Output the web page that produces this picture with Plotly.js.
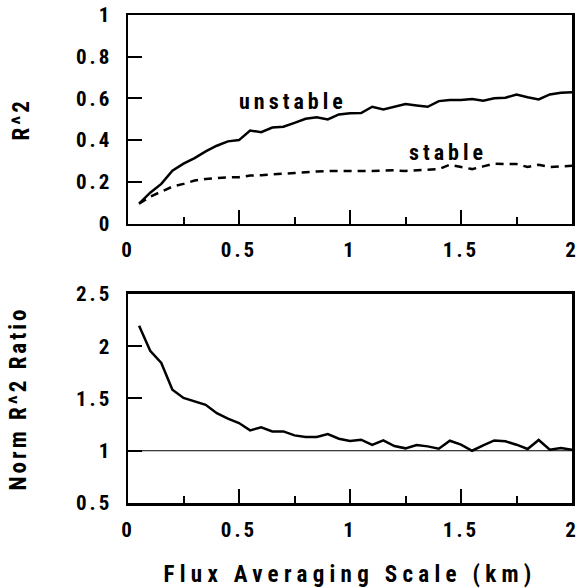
<!DOCTYPE html>
<html><head><meta charset="utf-8">
<script src="https://cdn.plot.ly/plotly-3.0.1.min.js"></script>
<style>
html,body{margin:0;padding:0;background:#fff;}
.main-svg text{letter-spacing:4px;}
.main-svg .xtick text,.main-svg .ytick text,.main-svg .x2tick text,.main-svg .y2tick text{letter-spacing:3px;}
.main-svg text.ytitle,.main-svg text.y2title{letter-spacing:3px;}
.main-svg text.x2title{letter-spacing:5.3px;}
</style>
</head><body>
<div id="chart" style="width:579px;height:588px;"></div>
<script>
const scaleKm = [0.05,0.1,0.15,0.2,0.25,0.3,0.35,0.4,0.45,0.5,0.55,0.6,0.65,0.7,0.75,0.8,0.85,0.9,0.95,1.0,
  1.05,1.1,1.15,1.2,1.25,1.3,1.35,1.4,1.45,1.5,1.55,1.6,1.65,1.7,1.75,1.8,1.85,1.9,1.95,2.0];
const unstableR2 = [0.095,0.148,0.19,0.253,0.287,0.314,0.346,0.373,0.394,0.40,0.446,0.438,0.46,0.464,0.483,0.502,0.51,0.499,0.523,0.529,
  0.53,0.56,0.547,0.56,0.573,0.566,0.56,0.587,0.592,0.592,0.597,0.589,0.601,0.603,0.619,0.606,0.595,0.619,0.627,0.63];
const stableR2 = [0.095,0.129,0.153,0.177,0.19,0.206,0.214,0.218,0.221,0.222,0.23,0.232,0.237,0.239,0.242,0.247,0.25,0.252,0.252,0.25,
  0.25,0.252,0.254,0.255,0.252,0.254,0.257,0.261,0.282,0.271,0.261,0.274,0.287,0.285,0.285,0.271,0.282,0.271,0.274,0.277];
const normRatio = [2.197,1.957,1.84,1.584,1.505,1.472,1.44,1.36,1.307,1.265,1.195,1.224,1.185,1.185,1.147,1.132,1.132,1.16,1.115,1.094,
  1.106,1.055,1.099,1.045,1.023,1.055,1.042,1.02,1.096,1.058,1.0,1.051,1.099,1.09,1.058,1.017,1.103,1.01,1.026,1.01];
const referenceLevel = 1;
const xRange = [0,2];
const y1Range = [0,1];
const y2Range = [0.5,2.5];
const xTicks = [0,0.5,1,1.5,2];
const xTickText = ['0','0.5','1','1.5','2'];
const xMinorTicks = [0.25,0.75,1.25,1.75];
const y1Ticks = [0,0.2,0.4,0.6,0.8,1];
const y1TickText = ['0','0.2','0.4','0.6','0.8','1'];
const y2Ticks = [0.5,1,1.5,2,2.5];
const y2TickText = ['0.5','1','1.5','2','2.5'];

const FONT = 'Roboto Condensed, DejaVu Sans Condensed, sans-serif';
const tickFont = {family: FONT, size: 21, color: '#000', weight: 'bold'};
const titleFont = {family: FONT, size: 23, color: '#000', weight: 'bold'};

function xAxis(extra){ return Object.assign({
  range:xRange, showline:true, mirror:true, linewidth:2.5, linecolor:'#000',
  ticks:'inside', ticklen:14, tickwidth:2, tickcolor:'#000',
  tickmode:'array', tickvals:xTicks, ticktext:xTickText,
  minor:{ticks:'inside', tickmode:'array', tickvals:xMinorTicks, ticklen:7, tickwidth:2, tickcolor:'#000', showgrid:false},
  tickfont:tickFont, showgrid:false, zeroline:false, ticklabelstandoff:6, fixedrange:true
}, extra); }
function yAxis(extra){ return Object.assign({
  showline:true, mirror:true, linewidth:2.5, linecolor:'#000',
  ticks:'inside', ticklen:14, tickwidth:2, tickcolor:'#000',
  tickmode:'array', tickfont:tickFont, showgrid:false, zeroline:false,
  ticklabelstandoff:9, fixedrange:true
}, extra); }

const traces = [
  {x:scaleKm, y:unstableR2, xaxis:'x', yaxis:'y', mode:'lines', line:{color:'#000', width:2.5}, hoverinfo:'skip'},
  {x:scaleKm, y:stableR2, xaxis:'x', yaxis:'y', mode:'lines', line:{color:'#000', width:2.5, dash:'8px,6px'}, hoverinfo:'skip'},
  {x:scaleKm, y:normRatio, xaxis:'x2', yaxis:'y2', mode:'lines', line:{color:'#000', width:2.5}, hoverinfo:'skip'},
  {x:xRange, y:[referenceLevel, referenceLevel], xaxis:'x2', yaxis:'y2', mode:'lines', line:{color:'#000', width:1}, hoverinfo:'skip'}
];

const layout = {
  width:579, height:588, showlegend:false,
  paper_bgcolor:'#fff', plot_bgcolor:'#fff',
  margin:{l:128, r:7, t:15, b:85},
  xaxis: xAxis({anchor:'y', domain:[0,1]}),
  yaxis: yAxis({anchor:'x', domain:[0.5727,1], range:y1Range, tickvals:y1Ticks, ticktext:y1TickText,
    title:{text:'R^2', font:titleFont, standoff:49}}),
  xaxis2: xAxis({anchor:'y2', domain:[0,1],
    title:{text:'Flux Averaging Scale (km)', font:titleFont, standoff:32}}),
  yaxis2: yAxis({anchor:'x2', domain:[0,0.4283], range:y2Range, tickvals:y2Ticks, ticktext:y2TickText,
    title:{text:'Norm R^2 Ratio', font:titleFont, standoff:52}}),
  annotations:[
    {text:'unstable', x:0.745, y:0.585, xref:'x', yref:'y', showarrow:false, font:{family:FONT, size:22, color:'#000', weight:'bold'}},
    {text:'stable', x:1.44, y:0.34, xref:'x', yref:'y', showarrow:false, font:{family:FONT, size:22, color:'#000', weight:'bold'}}
  ]
};
Plotly.newPlot('chart', traces, layout, {displayModeBar:false, staticPlot:true});
</script>
</body></html>
